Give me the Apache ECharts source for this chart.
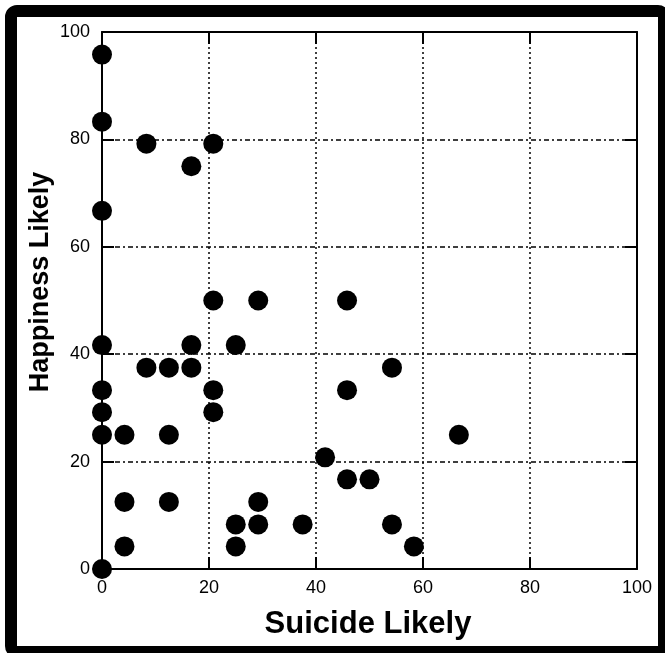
<!DOCTYPE html>
<html>
<head>
<meta charset="utf-8">
<script src="https://cdn.jsdelivr.net/npm/echarts@6/dist/echarts.min.js"></script>
<style>
html,body{margin:0;padding:0;background:#fff;}
#chart{width:665px;height:653px;}
</style>
</head>
<body>
<div id="chart"></div>
<script>
// Data
var suicideLikely = [0, 0, 8.3, 20.8, 16.7, 0, 20.8, 29.2, 45.8, 0, 16.7, 25, 8.3, 12.5, 16.7, 54.2, 0, 20.8, 45.8, 0, 20.8, 0, 4.2, 12.5, 66.7, 41.7, 45.8, 50, 4.2, 12.5, 29.2, 25, 29.2, 37.5, 54.2, 4.2, 25, 58.3, 0];
var happinessLikely = [95.8, 83.3, 79.2, 79.2, 75, 66.7, 50, 50, 50, 41.7, 41.7, 41.7, 37.5, 37.5, 37.5, 37.5, 33.3, 33.3, 33.3, 29.2, 29.2, 25, 25, 25, 25, 20.8, 16.7, 16.7, 12.5, 12.5, 12.5, 8.3, 8.3, 8.3, 8.3, 4.2, 4.2, 4.2, 0];
var xTicks = [0, 20, 40, 60, 80, 100];
var yTicks = [0, 20, 40, 60, 80, 100];
var xTitle = 'Suicide Likely';
var yTitle = 'Happiness Likely';

var points = suicideLikely.map(function (x, i) { return [x, happinessLikely[i]]; });
var FONT = '"Liberation Sans", Arial, sans-serif';

var chart = echarts.init(document.getElementById('chart'));
function axisBase(showLabel, pos) {
  return {
    type: 'value', min: xTicks[0], max: xTicks[xTicks.length - 1], interval: 20, position: pos,
    axisLine: { show: true, onZero: false, lineStyle: { color: '#000', width: 2 } },
    axisTick: { show: true, inside: true, length: 12, lineStyle: { color: '#000', width: 2 } },
    axisLabel: { show: showLabel, color: '#000', fontSize: 18, fontFamily: FONT },
    splitLine: { show: false }
  };
}
var xMain = axisBase(true, 'bottom');
xMain.axisLabel.margin = 10;
xMain.splitLine = { show: true, lineStyle: { color: '#000', width: 1.5, type: [2, 3] } };
var yMain = axisBase(true, 'left');
yMain.min = yTicks[0]; yMain.max = yTicks[yTicks.length - 1];
yMain.axisLabel.margin = 12;
yMain.splitLine = { show: true, lineStyle: { color: '#000', width: 1.5, type: [5, 3, 2, 3] } };
var xTop = axisBase(false, 'top');
var yRight = axisBase(false, 'right');

chart.setOption({
  animation: false,
  backgroundColor: '#fff',
  grid: { left: 102, top: 32, right: 28, bottom: 84, containLabel: false },
  xAxis: [xMain, xTop],
  yAxis: [yMain, yRight],
  series: [{
    type: 'scatter', xAxisIndex: 0, yAxisIndex: 0, clip: false,
    symbol: 'circle', symbolSize: 20,
    itemStyle: { color: '#000', opacity: 1 },
    data: points
  }],
  graphic: [
    { type: 'rect', shape: { x: 11, y: 11, width: 653, height: 641, r: 6 },
      style: { fill: 'none', stroke: '#000', lineWidth: 12 }, z: 100 },
    { type: 'text', x: 368, y: 624,
      style: { text: xTitle, font: 'bold 31px ' + FONT, fill: '#000', align: 'center', verticalAlign: 'middle' } },
    { type: 'text', x: 41, y: 282, rotation: Math.PI / 2,
      style: { text: yTitle, font: 'bold 27px ' + FONT, fill: '#000', align: 'center', verticalAlign: 'middle' } }
  ]
});
</script>
</body>
</html>
